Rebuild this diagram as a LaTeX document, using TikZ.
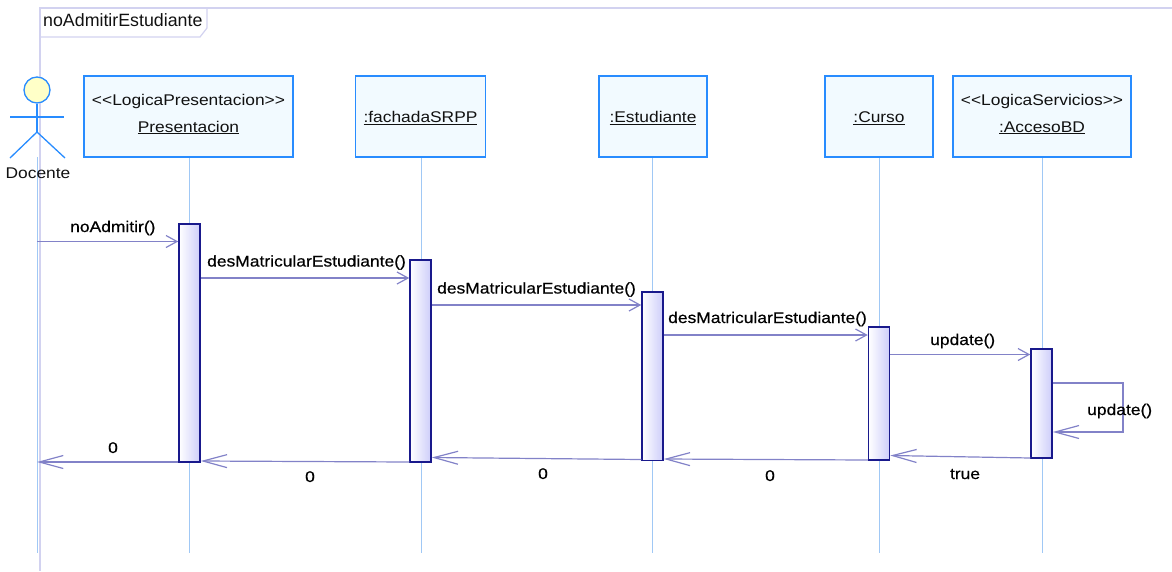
\documentclass[tikz,border=0pt]{standalone}
\usepackage{fontspec}
\setmainfont[FakeStretch=1.12]{Liberation Sans}
\newfontfamily\msgfont[FakeStretch=1.125,FakeBold=0.5]{Liberation Sans}
\newfontfamily\framefont{Liberation Sans}
\usetikzlibrary{arrows.meta}
\definecolor{framec}{RGB}{210,210,240}
\definecolor{boxborder}{RGB}{40,140,255}
\definecolor{boxfill}{RGB}{242,250,255}
\definecolor{lifec}{RGB}{160,200,245}
\definecolor{actborder}{RGB}{25,25,140}
\definecolor{actfill}{RGB}{205,205,250}
\definecolor{msgc}{RGB}{130,130,200}
\definecolor{headfill}{RGB}{255,255,200}
\definecolor{txtc}{RGB}{17,17,17}
\begin{document}
\begin{tikzpicture}[x=1pt,y=-1pt,
  txt/.style={inner sep=0pt, text=txtc, font=\fontsize{15.5}{18}\selectfont},
  mtxt/.style={inner sep=0pt, text=black, font=\msgfont\fontsize{15.5}{18}\selectfont},
  obj/.style={draw=boxborder, line width=1.5pt, fill=boxfill, inner sep=0pt},
  life/.style={draw=lifec, line width=1pt},
  actbox/.style={draw=actborder, line width=1.5pt, left color=white, right color=actfill, minimum width=21pt, inner sep=0pt},
  call/.style={draw=msgc, line width=1.2pt, -{Straight Barb[length=11pt,width=12pt]}},
  ret/.style={draw=msgc, line width=1.2pt, -{Straight Barb[length=24pt,width=13pt]}},
  limb/.style={draw=boxborder, line width=1.3pt}
]
\useasboundingbox (0,0) rectangle (1172,571);

% frame
\coordinate (fTL) at (40,8);
\coordinate (fTR) at (1172,8);
\coordinate (fBL) at (40,571);
\draw[framec, line width=1.2pt] (fTR) -- (fTL) -- (fBL);
\draw[framec, line width=1.2pt] (fTL) -- (207,8) -- (207,28) -- (200,37) -- (40,37);
\node[inner sep=0pt, anchor=base west, text=txtc, font=\framefont\fontsize{17.8}{20}\selectfont] (flabel) at (43,26) {noAdmitirEstudiante};

% actor
\node[circle, draw=boxborder, fill=headfill, line width=1.3pt, minimum size=26pt, inner sep=0pt] (head) at (37,90) {};
\coordinate (hip) at (37,132);
\coordinate (armL) at (10,117);
\coordinate (armR) at (64,117);
\coordinate (legL) at (10,158);
\coordinate (legR) at (65,158);
\draw[limb] (head.south) -- (hip);
\draw[limb] (armL) -- (armR);
\draw[limb] (legL) -- (hip) -- (legR);
\coordinate (actTop) at (37,157);
\coordinate (actEnd) at (37,553);
\draw[life] (actTop) -- (actEnd);
\node[txt, anchor=base] (docente) at (38,178) {Docente};

% objects
\node[obj, minimum width=209pt, minimum height=81pt] (pres) at (188.5,116.5) {};
\node[txt, anchor=base] (presS) at (188.5,105.5) {<{}<LogicaPresentacion>{}>};
\node[txt, anchor=base] (presN) at (188.5,132) {\underline{Presentacion}};

\node[obj, minimum width=130pt, minimum height=81pt] (fach) at (420.5,116.5) {};
\node[txt, anchor=base] (fachN) at (420.5,122.5) {\underline{:fachadaSRPP}};

\node[obj, minimum width=108pt, minimum height=81pt] (est) at (653,116.5) {};
\node[txt, anchor=base] (estN) at (653,122.5) {\underline{:Estudiante}};

\node[obj, minimum width=108pt, minimum height=81pt] (cur) at (879,116.5) {};
\node[txt, anchor=base] (curN) at (879,122.5) {\underline{:Curso}};

\node[obj, minimum width=178pt, minimum height=81pt] (bd) at (1042,116.5) {};
\node[txt, anchor=base] (bdS) at (1042,105.5) {<{}<LogicaServicios>{}>};
\node[txt, anchor=base] (bdN) at (1042,132) {\underline{:AccesoBD}};

% lifelines
\draw[life] (pres.south -| 189.5,0) -- (189.5,553);
\draw[life] (fach.south -| 421,0) -- (421,553);
\draw[life] (est.south -| 652.5,0) -- (652.5,553);
\draw[life] (cur.south -| 879,0) -- (879,553);
\draw[life] (bd.south -| 1042,0) -- (1042,553);

% activations
\node[actbox, minimum height=238pt] (aPres) at (189.5,343) {};
\node[actbox, minimum height=202pt] (aFach) at (420.5,361) {};
\node[actbox, minimum height=168.5pt] (aEst) at (652.5,376.25) {};
\node[actbox, minimum height=133pt] (aCur) at (879,393.5) {};
\node[actbox, minimum height=109pt] (aBD) at (1041.5,403.5) {};

% calls
\draw[call] (actTop |- 0,241.5) -- (aPres.west |- 0,241.5);
\node[mtxt, anchor=base west] (l1) at (70,232) {noAdmitir()};
\draw[call] (aPres.east |- 0,278) -- (aFach.west |- 0,278);
\node[mtxt, anchor=base west] (l2) at (207,266.5) {desMatricularEstudiante()};
\draw[call] (aFach.east |- 0,305) -- (aEst.west |- 0,305);
\node[mtxt, anchor=base west] (l3) at (437,293.5) {desMatricularEstudiante()};
\draw[call] (aEst.east |- 0,335) -- (aCur.west |- 0,335);
\node[mtxt, anchor=base west] (l4) at (668,323) {desMatricularEstudiante()};
\draw[call] (aCur.east |- 0,354.5) -- (aBD.west |- 0,354.5);
\node[mtxt, anchor=base west] (l5) at (930,345) {update()};

% self call
\coordinate (selfA) at (1123,383);
\coordinate (selfB) at (1123,432);
\draw[ret] (aBD.east |- selfA) -- (selfA) -- (selfB) -- (aBD.east |- selfB);
\node[mtxt, anchor=base west] (l6) at (1087,415) {update()};

% returns
\draw[ret] (aBD.west |- 0,458) -- (aCur.east |- 0,455.5);
\node[mtxt, anchor=base] (r1) at (965,479) {true};
\draw[ret] (aCur.west |- 0,460) -- (aEst.east |- 0,459);
\node[mtxt, anchor=base] (r2) at (770,481) {0};
\draw[ret] (aEst.west |- 0,459.5) -- (aFach.east |- 0,457.5);
\node[mtxt, anchor=base] (r3) at (543,479) {0};
\draw[ret] (aFach.west |- 0,462) -- (aPres.east |- 0,461);
\node[mtxt, anchor=base] (r4) at (310,482) {0};
\draw[ret] (aPres.west |- 0,462) -- (actTop |- 0,462);
\node[mtxt, anchor=base] (r5) at (113,453) {0};
\end{tikzpicture}
\end{document}
